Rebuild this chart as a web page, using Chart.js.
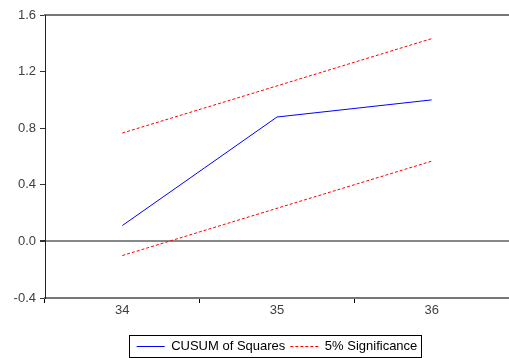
<!DOCTYPE html>
<html>
<head>
<meta charset="utf-8">
<script src="https://cdn.jsdelivr.net/npm/chart.js@4.4.1/dist/chart.umd.min.js"></script>
<style>
  html, body { margin: 0; padding: 0; background: #fff; }
  #wrap { width: 509px; height: 358px; position: relative; }
</style>
</head>
<body>
<div id="wrap"><canvas id="chart"></canvas></div>
<script>
'use strict';

/*********** DATA ***********/
var periods = ['34', '35', '36'];
var cusumSq = [0.112, 0.879, 1.0];
var upperBand = [0.766, 1.099, 1.433];
var lowerBand = [-0.100, 0.234, 0.567];
var yTicks = [-0.4, 0.0, 0.4, 0.8, 1.2, 1.6];

var fontFamily = 'Liberation Sans, Arial, sans-serif';

/*********** PLUGINS ***********/
// draws the thin frame round the legend entries
var legendFrame = {
  id: 'legendFrame',
  afterDraw: function(chart) {
    var boxes = chart.legend.legendHitBoxes;
    if (!boxes || !boxes.length) return;
    var left = Infinity, right = -Infinity, top = Infinity, bottom = -Infinity;
    for (var i = 0; i < boxes.length; i++) {
      left = Math.min(left, boxes[i].left);
      right = Math.max(right, boxes[i].left + boxes[i].width);
      top = Math.min(top, boxes[i].top);
      bottom = Math.max(bottom, boxes[i].top + boxes[i].height);
    }
    var x0 = Math.round(left - 8), x1 = Math.round(right + 4);
    var y0 = Math.round(top - 5), y1 = Math.round(bottom + 4);
    var ctx = chart.ctx;
    ctx.save();
    ctx.strokeStyle = '#000';
    ctx.lineWidth = 1;
    ctx.strokeRect(x0 + 0.5, y0 + 0.5, x1 - x0, y1 - y0);
    ctx.restore();
  }
};

/*********** CHART ***********/
var ctx = document.getElementById('chart').getContext('2d');
new Chart(ctx, {
  type: 'line',
  data: {
    labels: periods,
    datasets: [
      {
        label: 'CUSUM of Squares',
        data: cusumSq,
        borderColor: '#0000ff',
        backgroundColor: '#0000ff',
        borderWidth: 1,
        pointRadius: 0,
        tension: 0
      },
      {
        label: '5% Significance',
        data: upperBand,
        borderColor: '#ff0000',
        backgroundColor: '#ff0000',
        borderWidth: 1,
        borderDash: [3, 2],
        pointRadius: 0,
        tension: 0
      },
      {
        label: 'lower',
        data: lowerBand,
        borderColor: '#ff0000',
        borderWidth: 1,
        borderDash: [3, 2],
        pointRadius: 0,
        tension: 0
      }
    ]
  },
  options: {
    responsive: true,
    maintainAspectRatio: false,
    animation: false,
    layout: { padding: { top: 15, right: 0, left: 0, bottom: -5 } },
    plugins: {
      tooltip: { enabled: false },
      legend: {
        position: 'bottom',
        fullSize: false,
        labels: {
          usePointStyle: true,
          pointStyle: 'line',
          pointStyleWidth: 28,
          boxHeight: 13,
          padding: 5,
          color: '#000',
          font: { family: fontFamily, size: 13 },
          // only the first two series get an entry; colours and dashes taken from the datasets
          generateLabels: function(chart) {
            return chart.data.datasets.slice(0, 2).map(function(ds, i) {
              return {
                text: ds.label,
                datasetIndex: i,
                strokeStyle: ds.borderColor,
                fillStyle: ds.borderColor,
                lineWidth: ds.borderWidth,
                lineDash: ds.borderDash || [],
                pointStyle: 'line',
                hidden: false
              };
            });
          }
        }
      }
    },
    scales: {
      x: {
        type: 'category',
        offset: true,
        grid: {
          offset: true,
          drawOnChartArea: false,
          tickLength: 5,
          tickColor: '#000'
        },
        border: { color: '#777', width: 2 },
        ticks: {
          color: '#404040',
          padding: 0,
          font: { family: fontFamily, size: 13 }
        },
        afterFit: function(scale) { scale.height = 37; }
      },
      x2: {
        position: 'top',
        type: 'category',
        labels: periods,
        grid: { display: false },
        ticks: { display: false },
        border: { color: '#777', width: 2 },
        afterFit: function(scale) { scale.height = 0; }
      },
      y: {
        min: -0.4,
        max: 1.6,
        afterBuildTicks: function(scale) {
          scale.ticks = yTicks.map(function(v) { return { value: v }; });
        },
        grid: {
          color: function(c) { return c.tick && c.tick.value === 0 ? '#888' : 'rgba(0,0,0,0)'; },
          lineWidth: function(c) { return c.tick && c.tick.value === 0 ? 2 : 1; },
          tickColor: '#333',
          tickLength: 5
        },
        border: { color: '#222', width: 1 },
        ticks: {
          color: '#404040',
          padding: 4,
          font: { family: fontFamily, size: 13 },
          callback: function(v) { return Number(v).toFixed(1); }
        },
        afterFit: function(scale) { scale.width = 45; }
      }
    }
  },
  plugins: [legendFrame]
});
</script>
</body>
</html>
